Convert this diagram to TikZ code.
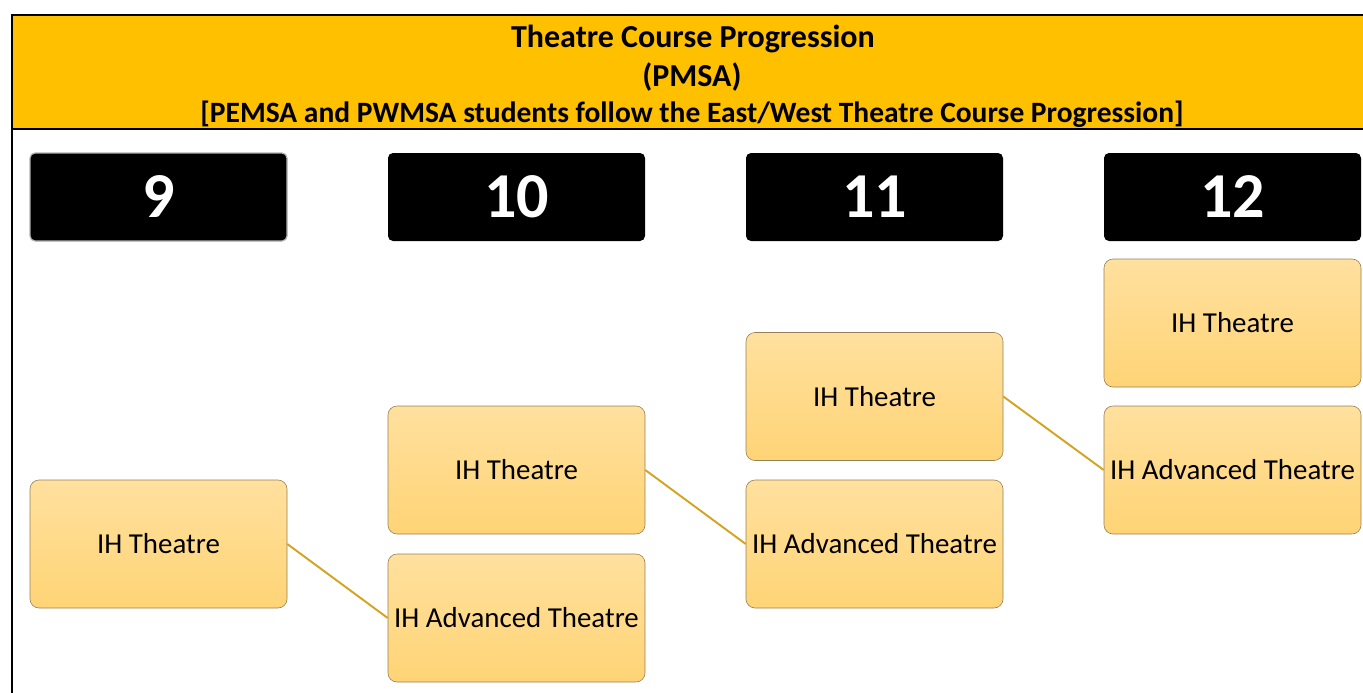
\documentclass[tikz,border=0pt]{standalone}
\usepackage{fontspec}
\setmainfont{Carlito}
\definecolor{headyellow}{RGB}{255,192,0}
\definecolor{linkgold}{RGB}{212,162,30}
\definecolor{boxedge}{RGB}{150,128,88}
\definecolor{boxtop}{RGB}{255,224,158}
\definecolor{boxbottom}{RGB}{255,212,118}
\begin{document}
\begin{tikzpicture}[x=1pt, y=-1pt,
	heading/.style={anchor=base, inner sep=0pt, font=\fontsize{32}{38}\selectfont\bfseries},
	grade/.style={fill=black, rounded corners=5pt, minimum width=257pt, minimum height=88pt, inner sep=0pt, text=white, font=\fontsize{64}{64}\selectfont\bfseries},
	course/.style={draw=boxedge, line width=0.6pt, top color=boxtop, bottom color=boxbottom, rounded corners=9pt, minimum width=257pt, minimum height=128pt, inner sep=0pt, font=\fontsize{28.9}{34}\selectfont},
	link/.style={draw=linkgold, line width=1.9pt}]
	\useasboundingbox (0,0) rectangle (1363,693);
	% header band and frame
	\fill[headyellow] (12,15) rectangle (1363,129);
	\draw[line width=2pt] (1363,15) -- (12,15) -- (12,693);
	\draw[line width=2pt] (12,129) -- (1363,129);
	\node[heading] (title) at (693,48) {Theatre Course Progression};
	\node[heading] (sub) at (692,86) {(PMSA)};
	\node[heading, font=\fontsize{29.5}{36}\selectfont\bfseries] (note) at (692,122) {[PEMSA and PWMSA students follow the East/West Theatre Course Progression]};
	
	% grade headers
	\node[grade, draw=gray!60, line width=1.2pt] (g9) at (158.5,197) {9};
	\node[grade] (g10) at (516.5,197) {10};
	\node[grade] (g11) at (874.5,197) {11};
	\node[grade] (g12) at (1232.5,197) {12};
	
	% courses
	\node[course] (t9) at (158.5,544) {IH Theatre};
	\node[course] (t10) at (516.5,470) {IH Theatre};
	\node[course] (a10) at (516.5,618) {IH Advanced Theatre};
	\node[course] (t11) at (874.5,396.5) {IH Theatre};
	\node[course] (a11) at (874.5,544) {IH Advanced Theatre};
	\node[course] (t12) at (1232.5,323) {IH Theatre};
	\node[course] (a12) at (1232.5,470) {IH Advanced Theatre};
	
	\draw[link] (t9.east) -- (a10.west);
	\draw[link] (t10.east) -- (a11.west);
	\draw[link] (t11.east) -- (a12.west);
\end{tikzpicture}
\end{document}
